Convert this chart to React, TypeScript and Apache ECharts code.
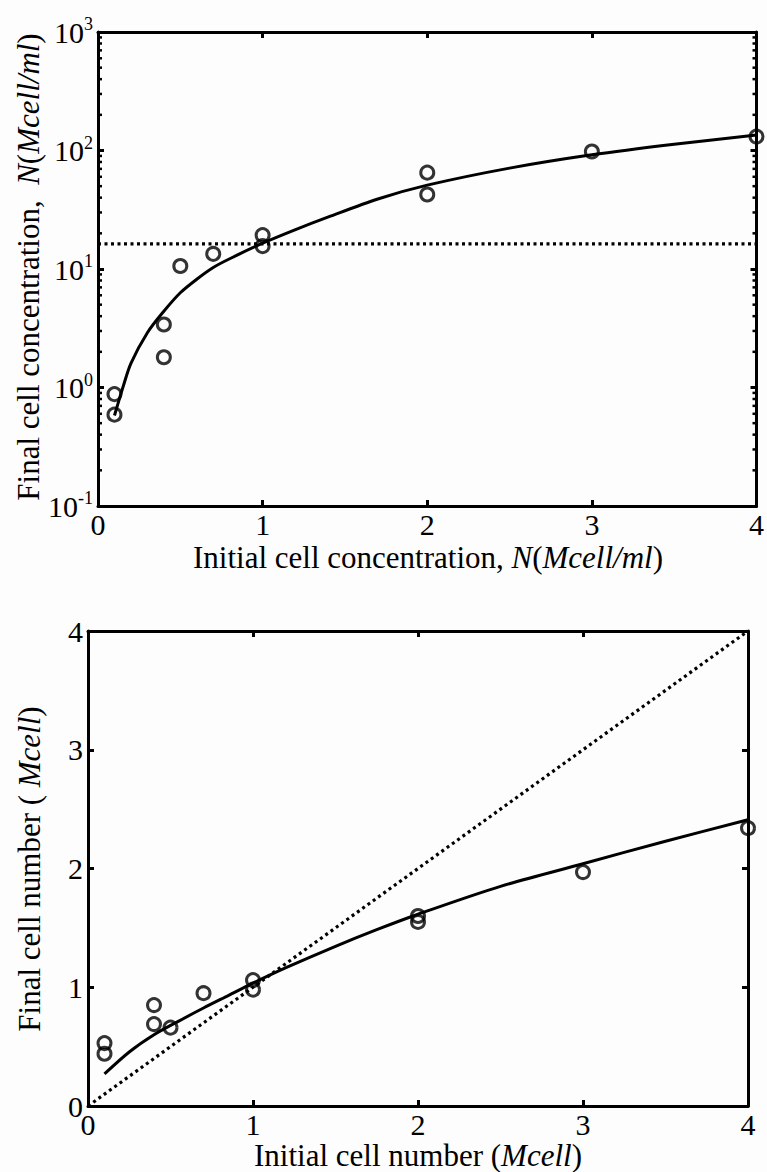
import React, { useEffect, useRef } from "react";
import * as echarts from "echarts";

// ---- Top panel: final concentration vs initial concentration (log y)
const topX = [0.1, 0.1, 0.4, 0.4, 0.5, 0.7, 1, 1, 2, 2, 3, 4];
const topY = [0.88, 0.59, 3.4, 1.8, 10.6, 13.4, 19.3, 15.6, 65, 42.5, 98, 131];
const topFitX = [0.1, 0.12, 0.15, 0.2, 0.3, 0.4, 0.5, 0.6, 0.7, 0.8, 1.0, 1.2, 1.4, 1.7, 2.0, 2.5, 3.0, 3.5, 4.0];
const topFitY = [0.58, 0.72, 0.99, 1.6, 2.9, 4.4, 6.3, 8.2, 10.3, 12.2, 16.5, 21.5, 27.5, 39, 51, 71, 92, 113, 135];
const thresholdX = [0, 4];
const thresholdY = [16.3, 16.3];
const logMinorTicks = [0.2, 0.3, 0.4, 0.5, 0.6, 0.7, 0.8, 0.9, 2, 3, 4, 5, 6, 7, 8, 9, 20, 30, 40, 50, 60, 70, 80, 90, 200, 300, 400, 500, 600, 700, 800, 900];

// ---- Bottom panel: final cell number vs initial cell number
const botX = [0.1, 0.1, 0.4, 0.4, 0.5, 0.7, 1, 1, 2, 2, 3, 4];
const botY = [0.53, 0.44, 0.85, 0.69, 0.66, 0.95, 1.06, 0.98, 1.6, 1.55, 1.97, 2.34];
const botFitX = [0.1, 0.25, 0.4, 0.55, 0.7, 0.85, 1.0, 1.2, 1.5, 1.75, 2.0, 2.5, 3.0, 3.5, 4.0];
const botFitY = [0.27, 0.455, 0.6, 0.715, 0.825, 0.93, 1.035, 1.165, 1.345, 1.485, 1.615, 1.85, 2.04, 2.23, 2.41];
const identityX = [0, 4];
const identityY = [0, 4];

const FONT = "'Liberation Serif', 'Times New Roman', serif";
const TITLE_SIZE = 31;
const zip = (a: number[], b: number[]) => a.map((v, i) => [v, b[i]]);

export default function App() {
  const ref = useRef<HTMLDivElement>(null);
  useEffect(() => {
    if (!ref.current) return;
    const chart = echarts.init(ref.current, undefined, { renderer: "svg" });

    const axisLine = { show: true, onZero: false, lineStyle: { color: "#000", width: 3 } };
    const tickIn = { show: true, inside: true, length: 6, lineStyle: { color: "#000", width: 3 } };
    const labelStyle = { color: "#000", fontFamily: FONT, fontSize: 30, lineHeight: 24 };

    const xMain = (gridIndex: number) => ({
      type: "value", gridIndex, min: 0, max: 4, interval: 1, position: "bottom",
      axisLine, axisTick: tickIn, splitLine: { show: false },
      axisLabel: { ...labelStyle, margin: 6 },
    });
    const xTop = (gridIndex: number) => ({
      type: "value", gridIndex, min: 0, max: 4, interval: 1, position: "top",
      axisLine, axisTick: tickIn, splitLine: { show: false }, axisLabel: { show: false },
    });

    const logLabel = {
      ...labelStyle,
      margin: 5,
      formatter: (v: number) => `{b|10}{s|${Math.round(Math.log10(v))}}`,
      rich: {
        b: { fontFamily: FONT, fontSize: 30, color: "#000", verticalAlign: "bottom", lineHeight: 30 },
        s: { fontFamily: FONT, fontSize: 18, color: "#000", verticalAlign: "bottom", lineHeight: 18, padding: [0, 0, 14, 0] },
      },
    };

    const scatterStyle = {
      type: "scatter", symbol: "circle", symbolSize: 13, clip: false, z: 5,
      itemStyle: { color: "rgba(0,0,0,0)", borderColor: "#000", borderWidth: 3 },
    };
    const solid = {
      type: "line", showSymbol: false, smooth: 0.3, clip: false,
      lineStyle: { color: "#000", width: 3 },
    };
    const dotted = { type: "line", showSymbol: false, clip: false, lineStyle: { color: "#000", width: 3.2, type: [3, 3.5], cap: "butt" } };

    const titleStyle = (text: string) => ({
      text,
      fontFamily: FONT, fontSize: TITLE_SIZE, fill: "#000", align: "center", verticalAlign: "middle",
      rich: { i: { fontFamily: FONT, fontSize: TITLE_SIZE, fontStyle: "italic", fill: "#000" } },
    });

    const option: any = {
      animation: false,
      backgroundColor: "#fdfdfd",
      grid: [
        { left: 98, top: 32, width: 660, height: 474 },
        { left: 88, top: 631, width: 660, height: 475 },
      ],
      xAxis: [xMain(0), xTop(0), xMain(1), xTop(1)],
      yAxis: [
        {
          type: "log", logBase: 10, gridIndex: 0, min: 0.1, max: 1000, position: "left",
          axisLine, axisTick: tickIn, splitLine: { show: false }, axisLabel: logLabel,
        },
        {
          type: "log", logBase: 10, gridIndex: 0, min: 0.1, max: 1000, position: "right",
          axisLine, axisTick: tickIn, splitLine: { show: false }, axisLabel: { show: false },
        },
        {
          type: "value", gridIndex: 1, min: 0, max: 4, interval: 1, position: "left",
          axisLine, axisTick: tickIn, splitLine: { show: false }, axisLabel: { ...labelStyle, margin: 5 },
        },
        {
          type: "value", gridIndex: 1, min: 0, max: 4, interval: 1, position: "right",
          axisLine, axisTick: tickIn, splitLine: { show: false }, axisLabel: { show: false },
        },
      ],
      series: [
        { ...dotted, xAxisIndex: 0, yAxisIndex: 0, data: zip(thresholdX, thresholdY) },
        { ...solid, xAxisIndex: 0, yAxisIndex: 0, data: zip(topFitX, topFitY) },
        { ...scatterStyle, xAxisIndex: 0, yAxisIndex: 0, data: zip(topX, topY) },
        {
          type: "custom", xAxisIndex: 0, yAxisIndex: 0, silent: true, clip: false,
          data: logMinorTicks.map((v) => [0, v]),
          renderItem: (params: any, api: any) => {
            const p = api.coord([0, api.value(1)]);
            const cs = params.coordSys;
            const st = { stroke: "#000", lineWidth: 2.5 };
            return {
              type: "group",
              children: [
                { type: "line", shape: { x1: cs.x, y1: p[1], x2: cs.x + 4, y2: p[1] }, style: st },
                { type: "line", shape: { x1: cs.x + cs.width - 4, y1: p[1], x2: cs.x + cs.width, y2: p[1] }, style: st },
              ],
            };
          },
        },
        { ...dotted, xAxisIndex: 2, yAxisIndex: 2, data: zip(identityX, identityY) },
        { ...solid, xAxisIndex: 2, yAxisIndex: 2, data: zip(botFitX, botFitY) },
        { ...scatterStyle, xAxisIndex: 2, yAxisIndex: 2, data: zip(botX, botY) },
      ],
      graphic: [
        { type: "text", x: 428, y: 557, style: titleStyle("Initial cell concentration, {i|N}({i|Mcell/ml})") },
        { type: "text", x: 28, y: 267, rotation: Math.PI / 2, style: titleStyle("Final cell concentration,  {i|N}({i|Mcell/ml})") },
        { type: "text", x: 418, y: 1155, style: titleStyle("Initial cell number ({i|Mcell})") },
        { type: "text", x: 29, y: 869, rotation: Math.PI / 2, style: titleStyle("Final cell number ( {i|Mcell})") },
      ],
    };
    chart.setOption(option);
    return () => chart.dispose();
  }, []);
  return <div ref={ref} style={{ position: "absolute", left: 0, top: 0, width: 767, height: 1172 }} />;
}
